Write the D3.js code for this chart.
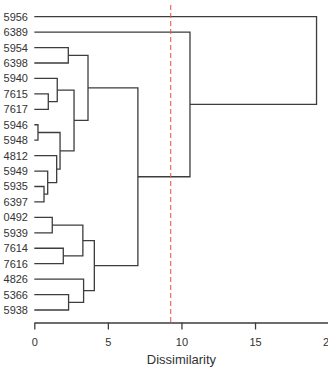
<!DOCTYPE html>
<html><head><meta charset="utf-8">
<script src="https://cdn.jsdelivr.net/npm/d3@7"></script>
<style>body{margin:0;background:#fff}svg{display:block}</style>
</head><body>
<svg id="c" width="328" height="367"></svg>
<script>
const leaves = ["5956","6389","5954","6398","5940","7615","7617","5946","5948","4812","5949","5935","6397","0492","5939","7614","7616","4826","5366","5938"];
// merges: [left child, right child, height]; children are leaf labels or "m<index>"
const merges = [
  ["5946","5948",0.25],
  ["5935","6397",0.66],
  ["5949","m1",0.91],
  ["7615","7617",0.95],
  ["0492","5939",1.22],
  ["4812","m2",1.52],
  ["5940","m3",1.56],
  ["m0","m5",1.75],
  ["7614","7616",1.97],
  ["5954","6398",2.31],
  ["5366","5938",2.33],
  ["m6","m7",2.70],
  ["m4","m8",3.30],
  ["4826","m10",3.35],
  ["m9","m11",3.65],
  ["m12","m13",4.08],
  ["m14","m15",7.04],
  ["6389","m16",10.58],
  ["5956","m17",19.18]
];
const cutHeight = 9.27;
const xTicks = [0,5,10,15,20];
const xLabel = "Dissimilarity";

const svg = d3.select("#c");
const x = d3.scaleLinear().domain([0,20]).range([34.3,328.6]);
const y = d3.scalePoint().domain(leaves).range([16.7,310]);
const lineColor = "#3d3d3d";

// build node positions
const nodes = {};
leaves.forEach(l => nodes[l] = {y: y(l), h: 0});
merges.forEach((m,i) => {
  const a = nodes[m[0]], b = nodes[m[1]];
  nodes["m"+i] = {y: (a.y+b.y)/2, h: m[2]};
});

const g = svg.append("g");
merges.forEach((m,i) => {
  const a = nodes[m[0]], b = nodes[m[1]], p = nodes["m"+i];
  const path = d3.path();
  path.moveTo(x(a.h), a.y);
  path.lineTo(x(p.h), a.y);
  path.lineTo(x(p.h), b.y);
  path.lineTo(x(b.h), b.y);
  g.append("path").attr("d", path.toString())
    .attr("fill","none").attr("stroke",lineColor).attr("stroke-width",1.3);
});

// leaf labels
svg.append("g").selectAll("text").data(leaves).join("text")
  .attr("x", 28).attr("y", d => y(d)).attr("dy","0.36em")
  .attr("text-anchor","end")
  .attr("font-family","Liberation Sans, Arial, sans-serif")
  .attr("font-size", 11).attr("fill","#333")
  .text(d => d);

// cut line
svg.append("line")
  .attr("x1", x(cutHeight)).attr("x2", x(cutHeight))
  .attr("y1", 5).attr("y2", 322.5)
  .attr("stroke","#ec5a50").attr("stroke-width",1.1)
  .attr("stroke-dasharray","5,3");

// axis
const ax = svg.append("g").attr("transform","translate(0,322.5)")
  .call(d3.axisBottom(x).tickValues(xTicks).tickFormat(d3.format("d"))
        .tickSize(7).tickSizeOuter(0).tickPadding(8.5));
ax.select(".domain").attr("stroke",lineColor).attr("stroke-width",1.3);
ax.selectAll(".tick line").attr("stroke",lineColor).attr("stroke-width",1.3);
ax.selectAll(".tick text").attr("font-family","Liberation Sans, Arial, sans-serif")
  .attr("font-size",11).attr("fill","#333");

svg.append("text").attr("x", (x(0)+x(20))/2).attr("y", 364)
  .attr("text-anchor","middle")
  .attr("font-family","Liberation Sans, Arial, sans-serif")
  .attr("font-size",13).attr("fill","#333")
  .text(xLabel);
</script>
</body></html>
